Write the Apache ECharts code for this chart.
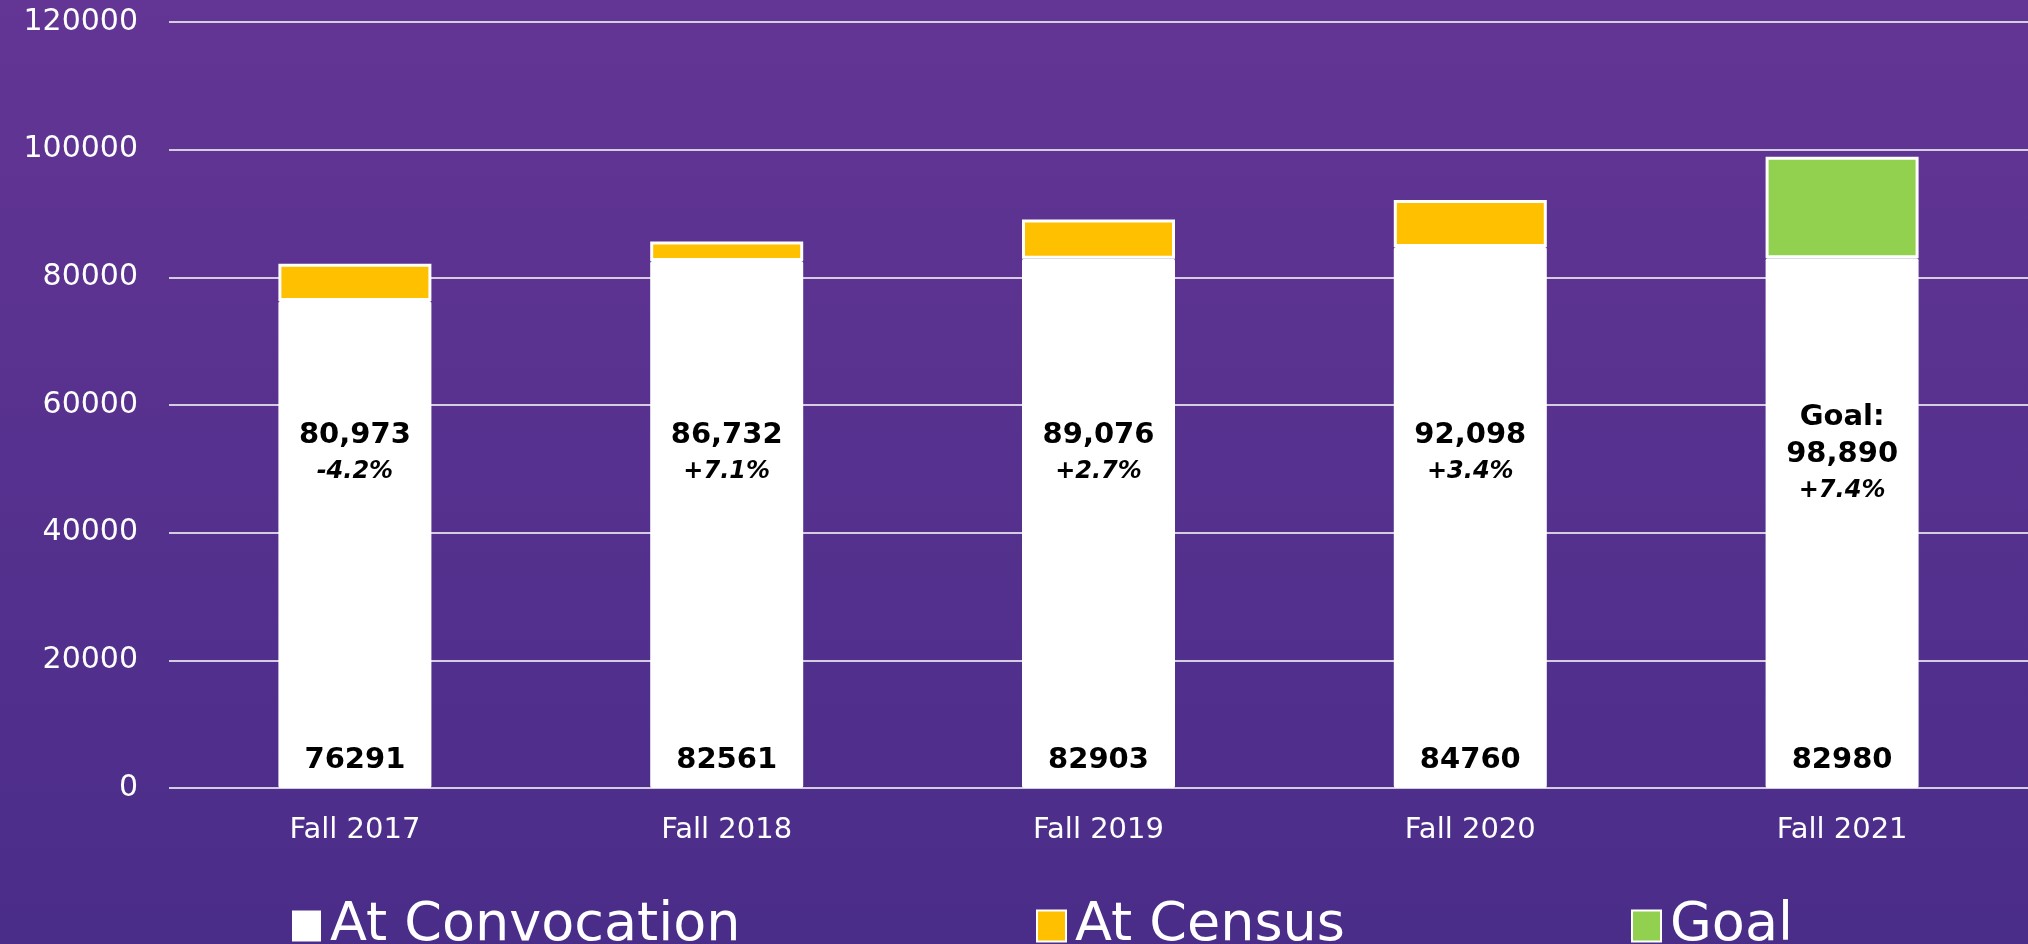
<!DOCTYPE html>
<html>
<head>
<meta charset="utf-8">
<style>
  html, body { margin: 0; padding: 0; }
  #chart { width: 2028px; height: 944px; }
</style>
<script src="https://cdn.jsdelivr.net/npm/echarts@6/dist/echarts.min.js"></script>
</head>
<body>
<div id="chart"></div>
<script>
// data
const terms = ['Fall 2017', 'Fall 2018', 'Fall 2019', 'Fall 2020', 'Fall 2021']
const atConvocation = [76291, 82561, 82903, 84760, 82980]
const atCensus = [5830, 3040, 6173, 7338, '-']
const goal = ['-', '-', '-', '-', 15910]
const totalLabels = ['80,973', '86,732', '89,076', '92,098', '98,890']
const changeLabels = ['-4.2%', '+7.1%', '+2.7%', '+3.4%', '+7.4%']
const goalFlags = [false, false, false, false, true]

const font = 'DejaVu Sans'
const labelLevel = 52400 // where the middle text sits

const chart = echarts.init(document.getElementById('chart'))

const legendBase = {
  orient: 'horizontal',
  top: 894,
  icon: 'rect',
  itemWidth: 29,
  itemHeight: 31,
  itemGap: 0,
  textStyle: { color: '#fff', fontSize: 54, fontFamily: font, padding: [0, 0, 0, 4] },
  selectedMode: false
}

chart.setOption({
  backgroundColor: {
    type: 'linear', x: 0, y: 0, x2: 0, y2: 1,
    colorStops: [
      { offset: 0, color: '#633594' },
      { offset: 1, color: '#4a2d89' }
    ]
  },
  animation: false,
  grid: { left: 169, top: 22, width: 1864, height: 766 },
  legend: [
    Object.assign({}, legendBase, { left: 287, data: ['At Convocation'] }),
    Object.assign({}, legendBase, { left: 1031, data: ['At Census'] }),
    Object.assign({}, legendBase, { left: 1626, data: ['Goal'] })
  ],
  xAxis: {
    type: 'category',
    data: terms,
    axisLine: { show: false },
    axisTick: { show: false },
    axisLabel: { color: '#fff', fontSize: 29, fontFamily: font, margin: 28 }
  },
  yAxis: {
    type: 'value',
    min: 0,
    max: 120000,
    interval: 20000,
    axisLine: { show: false },
    axisTick: { show: false },
    axisLabel: {
      color: '#fff', fontSize: 30, fontFamily: font, margin: 31,
      formatter: function(v) { return String(v) }
    },
    splitLine: { lineStyle: { color: '#d4cce0', width: 2 } }
  },
  series: [
    {
      name: 'At Convocation',
      type: 'bar',
      stack: 'total',
      barWidth: 153,
      data: atConvocation,
      itemStyle: { color: '#ffffff', borderColor: '#ffffff', borderWidth: 0, borderRadius: 2 },
      label: {
        show: true,
        position: 'insideBottom',
        distance: 13,
        color: '#000',
        fontSize: 29,
        fontWeight: 'bold',
        fontFamily: font
      }
    },
    {
      name: 'At Census',
      type: 'bar',
      stack: 'total',
      barWidth: 153,
      data: atCensus,
      itemStyle: { color: '#ffc000', borderColor: '#ffffff', borderWidth: 3 }
    },
    {
      name: 'Goal',
      type: 'bar',
      stack: 'total',
      barWidth: 153,
      data: goal,
      itemStyle: { color: '#92d050', borderColor: '#ffffff', borderWidth: 3 }
    },
    {
      name: 'labels',
      type: 'scatter',
      symbolSize: 0,
      silent: true,
      z: 10,
      itemStyle: { color: 'transparent', opacity: 1 },
      data: terms.map(function(t, i) { return [t, labelLevel] }),
      label: {
        show: true,
        position: 'inside',
        color: '#000',
        opacity: 1,
        textBorderWidth: 0,
        fontFamily: font,
        formatter: function(p) {
          const i = p.dataIndex
          let s = '{v|' + totalLabels[i] + '}\n{p|' + changeLabels[i] + '}'
          if (goalFlags[i]) s = '{v|Goal:}\n' + s
          return s
        },
        rich: {
          v: { color: '#000', fontSize: 29, fontWeight: 'bold', fontFamily: font, lineHeight: 37, align: 'center', textBorderWidth: 0 },
          p: { color: '#000', fontSize: 24, fontWeight: 'bold', fontStyle: 'italic', fontFamily: font, lineHeight: 36, align: 'center', textBorderWidth: 0 }
        }
      }
    }
  ]
})
</script>
</body>
</html>
